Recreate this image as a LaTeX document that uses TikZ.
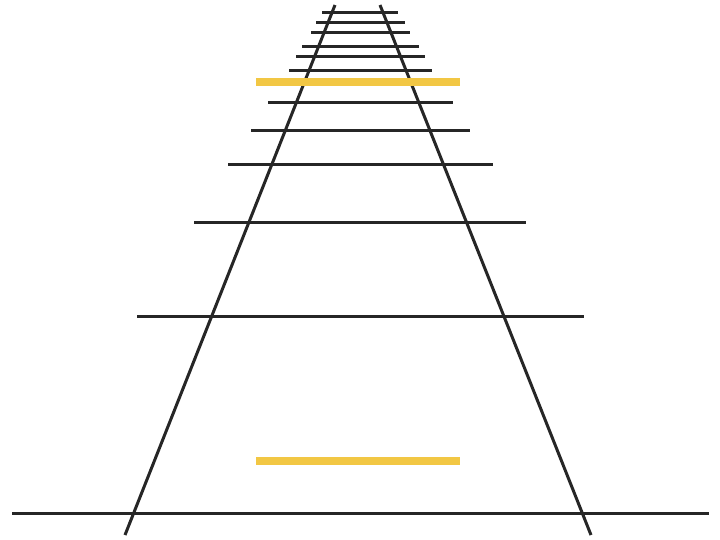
\documentclass[tikz,border=0pt]{standalone}
\begin{document}
\begin{tikzpicture}[x=1pt,y=-1pt,
  rail/.style={line width=3pt,draw=black!85},
  tie/.style={line width=3pt,draw=black!85},
  bar/.style={line width=8pt,draw=barcol}]
\definecolor{barcol}{HTML}{F2C744}
\useasboundingbox[fill=white] (0,0) rectangle (720,539);
% rails
\coordinate (lt) at (335,5);  \coordinate (lb) at (125,535);
\coordinate (rt) at (380,5);  \coordinate (rb) at (591,535);
\draw[rail] (lt) -- (lb);
\draw[rail] (rt) -- (rb);
% ties
\foreach \y/\a/\b [count=\i] in {12.5/322/398, 22.5/316/405, 32.5/311/410, 46/302/419, 56.5/296/425, 70/289/432, 102.5/268/453, 130/251/470, 164/228/493, 222/194/526, 316/137/584, 513/12/709}{
  \coordinate (ta\i) at (\a,\y); \coordinate (tb\i) at (\b,\y);
  \draw[tie] (ta\i) -- (tb\i);
}
% yellow bars
\coordinate (ya) at (256,81.5); \coordinate (yb) at (460,81.5);
\coordinate (za) at (256,460.5); \coordinate (zb) at (460,460.5);
\draw[bar] (ya) -- (yb);
\draw[bar] (za) -- (zb);
\end{tikzpicture}
\end{document}
